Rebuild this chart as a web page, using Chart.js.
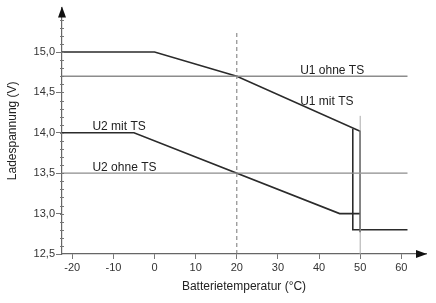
<!DOCTYPE html>
<html>
<head>
<meta charset="utf-8">
<script src="https://cdn.jsdelivr.net/npm/chart.js@4/dist/chart.umd.min.js"></script>
<style>
  body { margin: 0; background: #fff; }
  #wrap { width: 436px; height: 303px; }
</style>
</head>
<body>
<div id="wrap"><canvas id="ladeChart" width="436" height="303"></canvas></div>
<script>
// Ladespannung vs. Batterietemperatur

const xTicks = [-20, -10, 0, 10, 20, 30, 40, 50, 60];
const yTicks = [12.5, 13.0, 13.5, 14.0, 14.5, 15.0];

const u1MitTemp = [-22.5, 0, 20, 50, 50];
const u1MitVolt = [15.0, 15.0, 14.7, 14.02, 12.77];

const u2MitTemp = [-22.5, -5, 45, 50];
const u2MitVolt = [14.0, 14.0, 13.0, 13.0];

const cutTemp = [48.2, 48.2, 61.5];
const cutVolt = [14.05, 12.8, 12.8];

const u1OhneTemp = [-22.5, 61.5];
const u1OhneVolt = [14.7, 14.7];

const u2OhneTemp = [-22.5, 61.5];
const u2OhneVolt = [13.5, 13.5];

const refTemp = [20, 20];
const refVolt = [12.5, 15.25];

const maxTemp = [50, 50];
const maxVolt = [12.5, 14.21];

// text labels: [text, temp (left edge), volt (middle)]
const labels = [
  ['U1 ohne TS', 35.4, 14.77],
  ['U1 mit TS', 35.4, 14.39],
  ['U2 mit TS', -15.1, 14.07],
  ['U2 ohne TS', -15.1, 13.57]
];

const pts = (xs, ys) => xs.map((x, i) => ({ x: x, y: ys[i] }));

const dark = '#2b2b2b';
const grey = '#8c8c8c';

const textAndArrows = {
  id: 'textAndArrows',
  afterDraw(chart) {
    const c = chart.ctx;
    const xs = chart.scales.x, ys = chart.scales.y;
    const ax = xs.getPixelForValue(-22.5);
    const ay = ys.getPixelForValue(12.5);
    c.save();
    // minor ticks on y axis
    c.strokeStyle = '#777';
    c.lineWidth = 1;
    for (let v = 12.6; v < 15.5; v += 0.1) {
      const py = Math.round(ys.getPixelForValue(v)) + 0.5;
      c.beginPath();
      c.moveTo(ax - 2, py);
      c.lineTo(ax + 2, py);
      c.stroke();
    }
    // arrows
    c.fillStyle = '#111';
    c.beginPath();
    c.moveTo(ax, chart.chartArea.top - 1);
    c.lineTo(ax - 4, chart.chartArea.top + 10);
    c.lineTo(ax + 4, chart.chartArea.top + 10);
    c.closePath();
    c.fill();
    c.beginPath();
    c.moveTo(chart.chartArea.right + 1, ay);
    c.lineTo(chart.chartArea.right - 10, ay - 4);
    c.lineTo(chart.chartArea.right - 10, ay + 4);
    c.closePath();
    c.fill();
    // series labels
    c.fillStyle = '#222';
    c.font = '12px "Liberation Sans", Arial, sans-serif';
    c.textBaseline = 'middle';
    c.textAlign = 'left';
    labels.forEach(l => {
      c.fillText(l[0], xs.getPixelForValue(l[1]), ys.getPixelForValue(l[2]));
    });
    c.restore();
  }
};

const line = (data, color, width, dash) => ({
  data: data,
  showLine: true,
  borderColor: color,
  borderWidth: width,
  borderDash: dash || [],
  pointRadius: 0,
  fill: false,
  tension: 0
});

new Chart(document.getElementById('ladeChart').getContext('2d'), {
  type: 'scatter',
  data: {
    datasets: [
      line(pts(refTemp, refVolt), '#777', 1, [4, 3]),
      line(pts(maxTemp, maxVolt), '#aaa', 1),
      line(pts(u1OhneTemp, u1OhneVolt), grey, 1.3),
      line(pts(u2OhneTemp, u2OhneVolt), grey, 1.3),
      line(pts(u1MitTemp, u1MitVolt), dark, 1.6),
      line(pts(u2MitTemp, u2MitVolt), dark, 1.6),
      line(pts(cutTemp, cutVolt), dark, 1.6)
    ]
  },
  options: {
    responsive: false,
    animation: false,
    layout: { padding: { top: 3, right: 10, left: 0, bottom: 9 } },
    plugins: { legend: { display: false }, tooltip: { enabled: false } },
    scales: {
      x: {
        type: 'linear',
        min: -22.5,
        max: 66,
        afterBuildTicks: s => { s.ticks = xTicks.map(v => ({ value: v })); },
        afterFit: s => { s.height = 40; },
        grid: { drawOnChartArea: false, drawTicks: true, tickLength: 5, color: '#777' },
        border: { color: '#666', width: 1.2 },
        ticks: {
          padding: 2,
          color: '#333',
          font: { family: '"Liberation Sans", Arial, sans-serif', size: 11 },
          callback: v => String(v)
        },
        title: {
          display: true,
          text: 'Batterietemperatur (°C)',
          color: '#222',
          padding: { top: 2, bottom: 0 },
          font: { family: '"Liberation Sans", Arial, sans-serif', size: 12 }
        }
      },
      y: {
        type: 'linear',
        min: 12.5,
        max: 15.55,
        afterBuildTicks: s => { s.ticks = yTicks.map(v => ({ value: v })); },
        afterFit: s => { s.width = 62; },
        grid: { drawOnChartArea: false, drawTicks: true, tickLength: 6, color: '#777' },
        border: { color: '#666', width: 1.2 },
        ticks: {
          padding: 1,
          color: '#333',
          font: { family: '"Liberation Sans", Arial, sans-serif', size: 11 },
          callback: v => v.toFixed(1).replace('.', ',')
        },
        title: {
          display: true,
          text: 'Ladespannung (V)',
          color: '#222',
          padding: { top: 5, bottom: 0 },
          font: { family: '"Liberation Sans", Arial, sans-serif', size: 12 }
        }
      }
    }
  },
  plugins: [textAndArrows]
});
</script>
</body>
</html>
